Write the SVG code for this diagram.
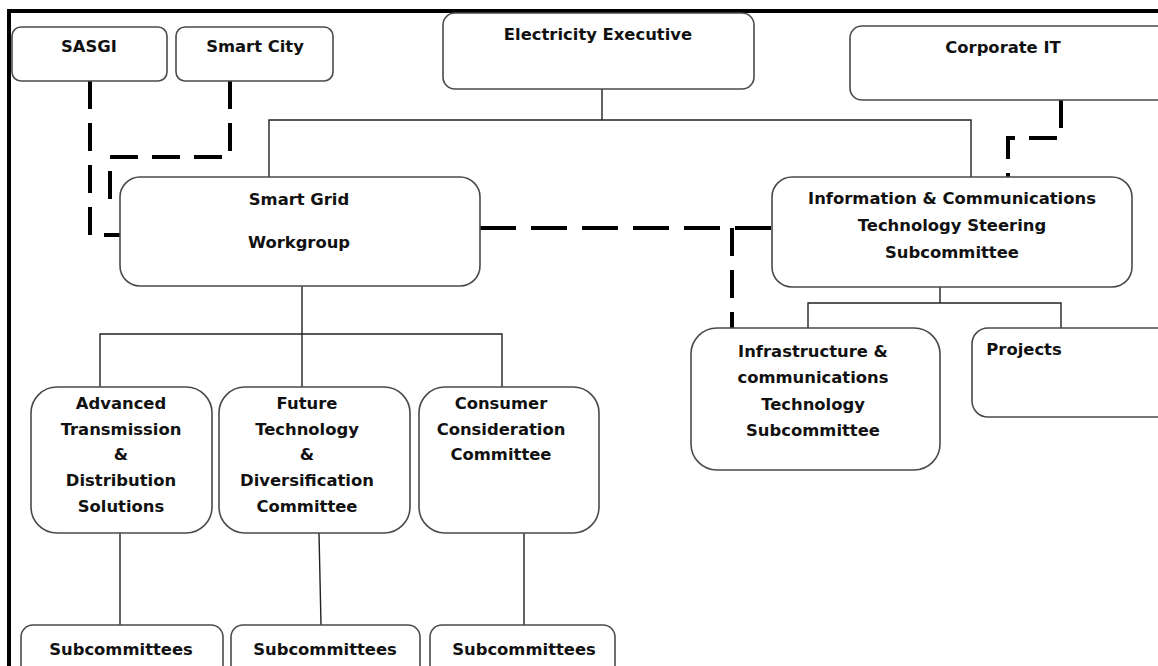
<svg xmlns="http://www.w3.org/2000/svg" width="1158" height="666" viewBox="0 0 1158 666">
  <style>
    .box { fill: #ffffff; stroke: #4a4a4a; stroke-width: 1.6; }
    .lbl { font-family: "DejaVu Sans", Verdana, sans-serif; font-weight: bold; font-size: 16.4px; fill: #111; text-anchor: middle; }
    .line { fill: none; stroke: #222; stroke-width: 1.4; }
    .dash { fill: none; stroke: #000; stroke-width: 4; stroke-dasharray: 36 15; }
    .dash2 { fill: none; stroke: #000; stroke-width: 4; stroke-dasharray: 28 14; }
    .frame { fill: none; stroke: #000; stroke-width: 4; }
  </style>
  <rect x="0" y="0" width="1158" height="666" fill="#ffffff"/>
  <!-- outer frame: top and left edges -->
  <path class="frame" d="M9,666 V11 H1158"/>

  <g id="connectors">
    <!-- solid reporting lines -->
    <path class="line" d="M602,89 V120 M269,177 V120 H971 V177"/>
    <path class="line" d="M302,286 V334 M100,387 V334 H502 V387 M302,334 V387"/>
    <path class="line" d="M940,287 V303 M808,328 V303 H1061 V328"/>
    <path class="line" d="M120,533 V625 M319,533 L321,625 M524,533 V625"/>
    <!-- dashed liaison lines -->
    <path class="dash2" d="M90,81 V235 H120"/>
    <path class="dash2" d="M230,81 V157 H110 V200 H120"/>
    <path class="dash" d="M480,228 H772"/>
    <path class="dash2" d="M732,228 V328"/>
    <path class="dash2" d="M1061,100 V138 H1008 V177"/>
  </g>

  <g id="sasgi">
    <rect class="box" x="12" y="27" width="155" height="54" rx="9"/>
    <text class="lbl" x="89" y="52">SASGI</text>
  </g>
  <g id="smart-city">
    <rect class="box" x="176" y="27" width="157" height="54" rx="9"/>
    <text class="lbl" x="255" y="52">Smart City</text>
  </g>
  <g id="electricity-executive">
    <rect class="box" x="443" y="13" width="311" height="76" rx="12"/>
    <text class="lbl" x="598" y="40">Electricity Executive</text>
  </g>
  <g id="corporate-it">
    <rect class="box" x="850" y="26" width="330" height="74" rx="12"/>
    <text class="lbl" x="1003" y="53">Corporate IT</text>
  </g>
  <g id="smart-grid-workgroup">
    <rect class="box" x="120" y="177" width="360" height="109" rx="20"/>
    <text class="lbl" x="299" y="205">Smart Grid</text>
    <text class="lbl" x="299" y="248">Workgroup</text>
  </g>
  <g id="ict-steering">
    <rect class="box" x="772" y="177" width="360" height="110" rx="20"/>
    <text class="lbl" x="952" y="204">Information &amp; Communications</text>
    <text class="lbl" x="952" y="231">Technology Steering</text>
    <text class="lbl" x="952" y="258">Subcommittee</text>
  </g>
  <g id="advanced-td">
    <rect class="box" x="31" y="387" width="181" height="146" rx="26"/>
    <text class="lbl" x="121" y="409">Advanced</text>
    <text class="lbl" x="121" y="435">Transmission</text>
    <text class="lbl" x="121" y="460">&amp;</text>
    <text class="lbl" x="121" y="486">Distribution</text>
    <text class="lbl" x="121" y="512">Solutions</text>
  </g>
  <g id="future-technology">
    <rect class="box" x="219" y="387" width="191" height="146" rx="26"/>
    <text class="lbl" x="307" y="409">Future</text>
    <text class="lbl" x="307" y="435">Technology</text>
    <text class="lbl" x="307" y="460">&amp;</text>
    <text class="lbl" x="307" y="486">Diversification</text>
    <text class="lbl" x="307" y="512">Committee</text>
  </g>
  <g id="consumer-consideration">
    <rect class="box" x="419" y="387" width="180" height="146" rx="26"/>
    <text class="lbl" x="501" y="409">Consumer</text>
    <text class="lbl" x="501" y="435">Consideration</text>
    <text class="lbl" x="501" y="460">Committee</text>
  </g>
  <g id="infrastructure-comms">
    <rect class="box" x="691" y="328" width="249" height="142" rx="26"/>
    <text class="lbl" x="813" y="357">Infrastructure &amp;</text>
    <text class="lbl" x="813" y="383">communications</text>
    <text class="lbl" x="813" y="410">Technology</text>
    <text class="lbl" x="813" y="436">Subcommittee</text>
  </g>
  <g id="projects">
    <rect class="box" x="972" y="328" width="208" height="89" rx="16"/>
    <text class="lbl" x="1024" y="355">Projects</text>
  </g>
  <g id="subcommittees-1">
    <rect class="box" x="21" y="625" width="202" height="70" rx="12"/>
    <text class="lbl" x="121" y="655">Subcommittees</text>
  </g>
  <g id="subcommittees-2">
    <rect class="box" x="231" y="625" width="189" height="70" rx="12"/>
    <text class="lbl" x="325" y="655">Subcommittees</text>
  </g>
  <g id="subcommittees-3">
    <rect class="box" x="430" y="625" width="185" height="70" rx="12"/>
    <text class="lbl" x="524" y="655">Subcommittees</text>
  </g>
</svg>
